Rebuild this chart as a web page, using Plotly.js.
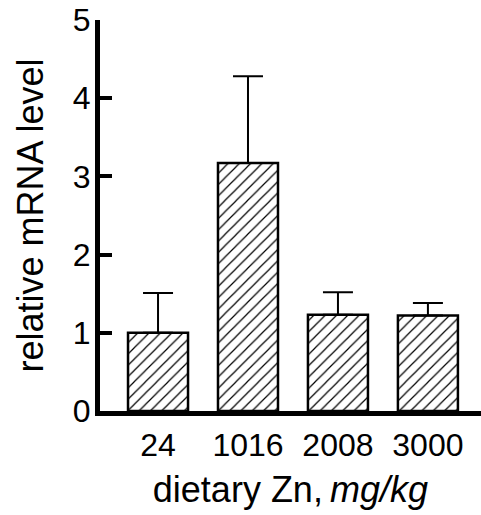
<!DOCTYPE html>
<html>
<head>
<meta charset="utf-8">
<script src="https://cdn.plot.ly/plotly-3.0.1.min.js"></script>
<style>
html,body{margin:0;padding:0;background:#fff;}
#chart{width:481px;height:515px;}
</style>
</head>
<body>
<div id="chart"></div>
<script>
const categories = ["24", "1016", "2008", "3000"];
const meanValues = [1.00, 3.17, 1.23, 1.22];
const errorPlus = [0.51, 1.11, 0.29, 0.16];
const yTickValues = [0, 1, 2, 3, 4, 5];
const yTickLabels = ["0", "1", "2", "3", "4", "5"];

const FONT = "Liberation Sans, Arial, Helvetica, sans-serif";

const trace = {
  type: "bar",
  x: categories,
  y: meanValues,
  width: 0.667,
  marker: {
    color: "#ffffff",
    line: {color: "#000000", width: 2.5},
    pattern: {shape: "/", fgcolor: "#000000", bgcolor: "#ffffff", size: 8, solidity: 0.15}
  },
  error_y: {
    type: "data",
    symmetric: false,
    array: errorPlus,
    arrayminus: [0, 0, 0, 0],
    color: "#000000",
    thickness: 2,
    width: 15
  },
  hoverinfo: "skip"
};

const layout = {
  width: 481,
  height: 515,
  margin: {l: 100, r: 0, t: 20, b: 104, pad: 0},
  paper_bgcolor: "#ffffff",
  plot_bgcolor: "#ffffff",
  showlegend: false,
  font: {family: FONT, color: "#000000"},
  xaxis: {
    type: "category",
    range: [-0.645, 3.59],
    showline: true,
    linecolor: "#000000",
    linewidth: 5,
    ticks: "",
    showgrid: false,
    zeroline: false,
    tickfont: {family: FONT, size: 32, color: "#000000"},
    ticklabelstandoff: 2,
    title: {text: "dietary Zn,\u2009<i>mg/kg</i>", font: {family: FONT, size: 36, color: "#000000"}, standoff: 16}
  },
  yaxis: {
    range: [0, 5],
    tickvals: yTickValues,
    ticktext: yTickLabels,
    showline: true,
    linecolor: "#000000",
    linewidth: 5,
    ticks: "inside",
    ticklen: 12,
    tickwidth: 4,
    tickcolor: "#000000",
    showgrid: false,
    zeroline: false,
    tickfont: {family: FONT, size: 32, color: "#000000"},
    ticklabelstandoff: -2,
    title: {text: "relative mRNA level", font: {family: FONT, size: 36, color: "#000000"}, standoff: 20}
  }
};

Plotly.newPlot("chart", [trace], layout, {staticPlot: true, displayModeBar: false});
</script>
</body>
</html>
